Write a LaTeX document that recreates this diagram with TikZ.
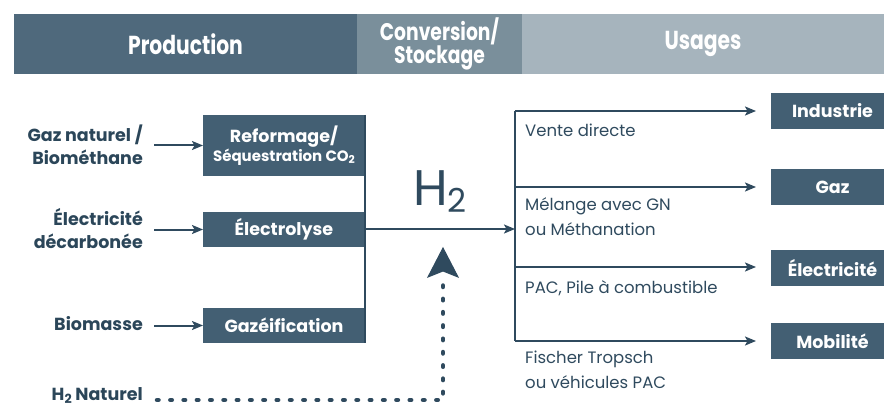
\documentclass[tikz,border=0pt]{standalone}
\usepackage{fontspec}
\setmainfont{Poppins}
\newfontfamily\hdrfont[FakeStretch=0.78]{Poppins}
\usetikzlibrary{arrows.meta}
\definecolor{hdrA}{HTML}{4F697C}
\definecolor{hdrB}{HTML}{7A8F9B}
\definecolor{hdrC}{HTML}{A6B4BD}
\definecolor{boxc}{HTML}{435F73}
\definecolor{ink}{HTML}{2B4659}
\definecolor{linec}{HTML}{2F4A5E}
% text subscript in the running font
\newcommand\dn[1]{\raisebox{-0.3ex}{\scalebox{0.72}{#1}}}
\begin{document}
\begin{tikzpicture}[x=1pt,y=-1pt,
  hdr/.style={fill=#1, inner sep=0pt, outer sep=0pt, text=white, font=\hdrfont\bfseries\fontsize{26}{23}\selectfont, align=center},
  proc/.style={fill=boxc, inner sep=0pt, outer sep=0pt, text=white, font=\bfseries\fontsize{17.5}{20}\selectfont, align=center, minimum width=162pt},
  use/.style={fill=boxc, inner sep=0pt, outer sep=0pt, text=white, font=\bfseries\fontsize{17.5}{20}\selectfont, minimum width=123pt, minimum height=36pt},
  src/.style={text=ink, font=\bfseries\fontsize{17.5}{23}\selectfont, align=right, anchor=east, inner sep=0pt},
  note/.style={text=linec, font=\fontsize{16.5}{24.5}\selectfont, align=left, anchor=west, inner sep=0pt},
  flow/.style={draw=linec, line width=2pt, -{Stealth[length=11pt,width=9pt,inset=2.5pt]}},
  dots/.style={draw=linec, line width=4.5pt, line cap=round, dash pattern=on 1.5pt off 11.8pt}
]
\useasboundingbox (0,0) rectangle (884,409);

% header band
\node[hdr=hdrA, minimum width=343pt, minimum height=60pt] (hprod) at (185.5,44) {Production};
\node[hdr=hdrB, minimum width=165pt, minimum height=60pt, font=\hdrfont\bfseries\fontsize{24}{23}\selectfont] (hconv) at (439.5,44) {Conversion/\\Stockage};
\node[hdr=hdrC, minimum width=362pt, minimum height=60pt] (huse) at (703,44) {Usages};

% production processes
\node[proc, minimum height=61pt] (ref) at (284,145.5) {Reformage/\\[-1pt]{\fontsize{15}{17}\selectfont S\'equestration CO\dn{2}}};
\node[proc, minimum height=35pt] (elec) at (284,229.5) {\'Electrolyse};
\node[proc, minimum height=35pt] (gazf) at (284,325.5) {Gaz\'eification};

% sources
\node[src] (gn) at (143,145) {Gaz naturel /\\Biom\'ethane};
\node[src] (el) at (143,229) {\'Electricit\'e\\d\'ecarbon\'ee};
\node[src] (bio) at (143,324) {Biomasse};
\node[src] (nat) at (143,395.5) {H\dn{2} Naturel};

\draw[flow] ([xshift=11pt]gn.east |- ref.west) -- (ref.west);
\draw[flow] ([xshift=11pt]el.east |- elec.west) -- (elec.west);
\draw[flow] ([xshift=11pt]bio.east |- gazf.west) -- (gazf.west);

% collector on the right of the processes
\draw[draw=linec, line width=2pt] (ref.north east) -- (gazf.south east);

% hydrogen label and distribution hub
\node[text=linec, font=\fontsize{50}{50}\selectfont, inner sep=0pt, anchor=base west] (h2) at (413,205) {H\raisebox{-7pt}{\fontsize{33}{33}\selectfont 2}};
\coordinate (hub) at (515,229);
\coordinate (top) at (515,111);
\coordinate (bot) at (515,341);
\draw[flow] (elec.east |- hub) -- (hub);

% usages
\node[use] (ind) at (832.5,111) {Industrie};
\node[use] (gaz) at (832.5,187) {Gaz};
\node[use] (ele) at (832.5,268) {\'Electricit\'e};
\node[use] (mob) at (832.5,341) {Mobilit\'e};

\draw[draw=linec, line width=2pt] (top) -- (bot);
\draw[flow] (top) -- ([xshift=-15pt]ind.west);
\draw[flow] (515,187) -- ([xshift=-15pt]gaz.west |- 515,187);
\draw[flow] (515,267) -- ([xshift=-15pt]ele.west |- 515,267);
\draw[flow] (bot) -- ([xshift=-15pt]mob.west);

\node[note] (n1) at (525,130) {Vente directe};
\node[note] (n2) at (525,216.5) {M\'elange avec GN\\ou M\'ethanation};
\node[note] (n3) at (525,288) {PAC, Pile \`a combustible};
\node[note] (n4) at (525,370) {Fischer Tropsch\\ou v\'ehicules PAC};

% natural hydrogen feed
\coordinate (natin) at (443,248);
\draw[dots] ([xshift=14pt]nat.east |- 0,400) -- (443,400) -- (443,283);
\draw[draw=linec, line width=1pt, fill=linec] (natin) -- (458,277) -- (443,271) -- (428,277) -- cycle;
\end{tikzpicture}
\end{document}
